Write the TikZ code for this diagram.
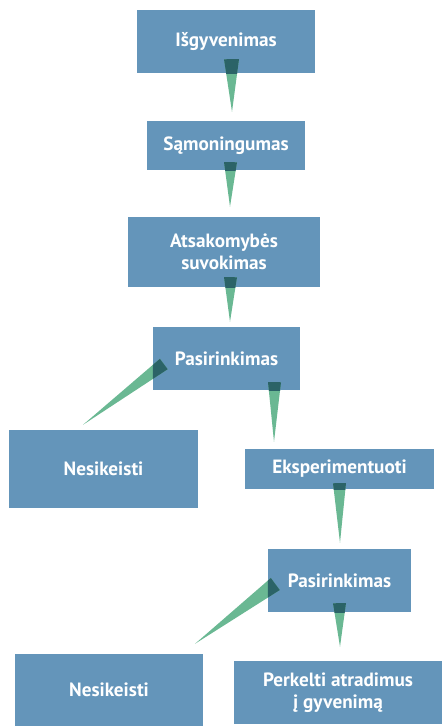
\documentclass[tikz,border=0pt]{standalone}
\usepackage{fontspec}
\setmainfont{PT Sans}
\usetikzlibrary{calc}

\definecolor{boxblue}{RGB}{100,149,186}
\definecolor{wedgegreen}{RGB}{106,184,147}
\definecolor{wedgedark}{RGB}{43,99,103}

\tikzset{
  stage/.style={fill=boxblue, text=white, align=center, inner sep=0pt,
    font=\bfseries\fontsize{19.2}{22}\selectfont},
}

% tapered connector: #1 source node, #2 base centre, #3 tip, #4 half width (pt)
\newcommand\taperlink[4]{%
  \coordinate (tpA) at ($(#2)!#4pt!90:(#3)$);
  \coordinate (tpB) at ($(#2)!#4pt!-90:(#3)$);
  \fill[wedgegreen] (tpA) -- (#3) -- (tpB) -- cycle;
  \begin{scope}
    \clip (#1.north west) rectangle (#1.south east);
    \fill[wedgedark] (tpA) -- (#3) -- (tpB) -- cycle;
  \end{scope}}

\begin{document}
\begin{tikzpicture}[x=1pt,y=-1pt]
\useasboundingbox (0,0) rectangle (442,726);

% stages
\node[stage, minimum width=178pt, minimum height=63pt] (b1) at (226,41.5) {Išgyvenimas};
\node[stage, minimum width=158pt, minimum height=49pt] (b2) at (226,145.5) {Sąmoningumas};
\node[stage, minimum width=192pt, minimum height=70pt] (b3) at (224,252) {Atsakomybės\\suvokimas};
\node[stage, minimum width=147pt, minimum height=63pt] (b4) at (226.5,358.5) {Pasirinkimas};
\node[stage, minimum width=189pt, minimum height=78pt] (n1) at (103.5,469) {Nesikeisti};
\node[stage, minimum width=189pt, minimum height=40pt] (ex) at (339.5,469) {Eksperimentuoti};
\node[stage, minimum width=143pt, minimum height=63pt] (p2) at (339.5,580.5) {Pasirinkimas};
\node[stage, minimum width=188pt, minimum height=72pt] (n2) at (109,690) {Nesikeisti};
\node[stage, minimum width=208pt, minimum height=63pt] (pk) at (338,692.5) {Perkelti atradimus\\į gyvenimą};

% connector end points
\coordinate (s1) at ($(b1.south)+(5.5,-14)$);  \coordinate (t1) at ($(b2.north)+(6,-9)$);
\coordinate (s2) at ($(b2.south)+(4.5,-8)$);   \coordinate (t2) at ($(b3.north)+(6,-10)$);
\coordinate (s3) at ($(b3.south)+(6.5,-10)$);  \coordinate (t3) at ($(b4.north)+(3.5,-5)$);
\coordinate (s4) at ($(b4.west)+(11,5.5)$);    \coordinate (t4) at ($(n1.north)+(-20.5,-5)$);
\coordinate (s5) at ($(b4.south)+(48,-8)$);    \coordinate (t5) at ($(ex.north)+(-65.5,-7)$);
\coordinate (s6) at ($(ex.south)+(0,-6)$);     \coordinate (t6) at ($(p2.north)+(0.5,-6)$);
\coordinate (s7) at ($(p2.west)+(7.5,3.5)$);   \coordinate (t7) at ($(n2.north)+(86,-10)$);
\coordinate (s8) at ($(p2.south)+(0,-9)$);     \coordinate (t8) at ($(pk.north)+(2,-14)$);

% tapered connectors
\taperlink{b1}{s1}{t1}{7.5}
\taperlink{b2}{s2}{t2}{6.5}
\taperlink{b3}{s3}{t3}{6.5}
\taperlink{b4}{s4}{t4}{6.5}
\taperlink{b4}{s5}{t5}{6.5}
\taperlink{ex}{s6}{t6}{6.5}
\taperlink{p2}{s7}{t7}{7.5}
\taperlink{p2}{s8}{t8}{6.5}
\end{tikzpicture}
\end{document}
